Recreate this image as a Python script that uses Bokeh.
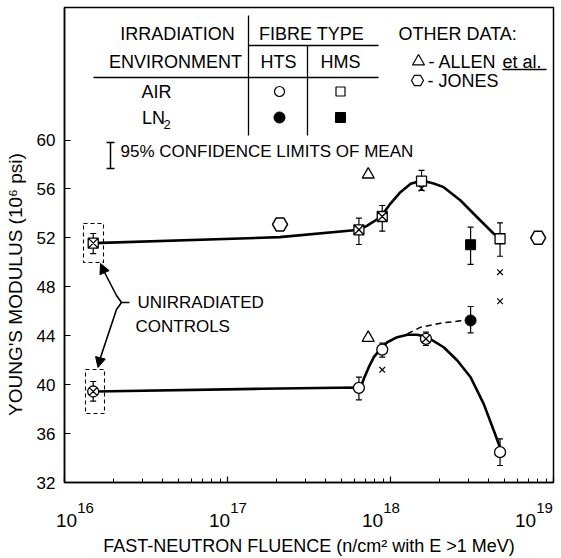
from bokeh.plotting import figure
from bokeh.models import (Range1d, FixedTicker, CustomJSTickFormatter, ColumnDataSource,
                          Whisker, TeeHead, Label, Arrow, NormalHead, LogTicker, LogAxis)
from bokeh.embed import file_html
from bokeh.resources import INLINE

# ---------------- data ----------------
# HMS fibre, air irradiation (open squares)
hms_air_x = [1.5e16, 6.4e17, 8.9e17, 1.55e18, 4.7e18]
hms_air_y = [51.57, 52.66, 53.75, 56.64, 51.93]
hms_air_lo = [50.72, 51.46, 52.55, 55.88, 50.50]
hms_air_hi = [52.36, 53.61, 54.65, 57.52, 53.23]
hms_air_mark = ["square_x", "square_x", "square_x", "square", "square"]

# HMS fibre, LN2 irradiation (filled square)
hms_ln2_x = [3.1e18]
hms_ln2_y = [51.44]
hms_ln2_lo = [49.83]
hms_ln2_hi = [52.88]

# HTS fibre, air irradiation (open circles)
hts_air_x = [1.5e16, 6.4e17, 8.9e17, 1.65e18, 4.7e18]
hts_air_y = [39.44, 39.74, 42.87, 43.75, 34.48]
hts_air_lo = [38.65, 38.76, 42.25, 43.20, 33.39]
hts_air_hi = [40.26, 40.61, 43.39, 44.29, 35.57]
hts_air_mark = ["circle_x", "circle", "circle", "circle_x", "circle"]

# HTS fibre, LN2 irradiation (filled circle)
hts_ln2_x = [3.1e18]
hts_ln2_y = [45.25]
hts_ln2_lo = [44.24]
hts_ln2_hi = [46.39]

# other data
allen_x = [7.3e17, 7.3e17]
allen_y = [57.18, 43.83]
jones_x = [2.1e17, 8.05e18]
jones_y = [53.10, 52.01]
cross_x = [4.7e18, 4.7e18, 8.9e17, 1.55e18]
cross_y = [49.20, 46.82, 41.21, 56.04]

# hand-drawn fitted curves
hms_curve_x = [1.51e16, 2.09e17, 6.45e17, 7.2e17, 8.68e17, 1.0e18, 1.15e18, 1.33e18,
               1.56e18, 1.84e18, 2.12e18, 2.69e18, 3.40e18, 4.30e18, 4.73e18]
hms_curve_y = [51.57, 52.06, 52.66, 53.01, 53.69, 54.81, 55.74, 56.42,
               56.69, 56.45, 56.15, 55.06, 53.69, 52.34, 51.93]
hts_curve_x = [1.55e16, 1.59e17, 6.25e17, 6.55e17, 6.86e17, 7.36e17, 7.9e17, 8.69e17,
               9.55e17, 1.10e18, 1.27e18, 1.46e18, 1.68e18, 2.12e18, 2.57e18,
               3.10e18, 3.73e18, 4.30e18, 4.73e18]
hts_curve_y = [39.44, 39.66, 39.77, 39.74, 40.48, 41.43, 42.25, 42.93,
               43.47, 43.88, 44.08, 44.08, 43.88, 43.06, 41.98,
               40.61, 38.43, 36.25, 34.76]
ln2_curve_x = [1.27e18, 1.53e18, 2.03e18, 2.69e18, 3.13e18]
ln2_curve_y = [44.16, 44.70, 45.03, 45.22, 45.25]

y_ticks = [32, 36, 40, 44, 48, 52, 56, 60]
x_tick_base = "10"

FONT = "Liberation Sans"


# page-pixel layout helpers for annotations (positions only)
def X(px):
    return 10 ** (16 + (px - 64) / 163.0)


def Y(py):
    return 32 + (482 - py) / 12.23


p = figure(x_axis_type="log", frame_width=489, frame_height=475,
           x_range=Range1d(1e16, 1e19), y_range=Range1d(32, 32 + 475 / 12.23),
           min_border_left=64, min_border_right=2, min_border_top=7, min_border_bottom=74,
           output_backend="svg", toolbar_location=None,
           background_fill_color="white", border_fill_color="white")
p.grid.grid_line_color = None
p.outline_line_color = "black"
p.outline_line_width = 1.5

# axes: the default x axis carries the tick marks only
p.xaxis.ticker = LogTicker(num_minor_ticks=10)
p.xaxis.formatter = CustomJSTickFormatter(code="return '';")
p.xaxis.major_label_standoff = 0
p.yaxis.ticker = FixedTicker(ticks=y_ticks)
for ax in (p.xaxis, p.yaxis):
    ax.axis_line_width = 1.5
    ax.major_tick_in = 6
    ax.major_tick_out = 0
    ax.major_tick_line_width = 1.2
    ax.minor_tick_in = 4
    ax.minor_tick_out = 0
    ax.major_label_text_font = FONT
    ax.major_label_text_color = "black"
p.yaxis.minor_tick_line_color = None
p.yaxis.major_label_text_font_size = "17px"
p.yaxis.major_label_standoff = 9
# trailing no-break spaces move the visible title down, as in the original
p.yaxis.axis_label = "YOUNG'S MODULUS (10\u2076 psi)" + "\u00a0" * 15
p.yaxis.axis_label_text_font = FONT
p.yaxis.axis_label_text_font_style = "normal"
p.yaxis.axis_label_text_color = "black"
p.yaxis.axis_label_text_font_size = "19px"
p.yaxis.axis_label_standoff = 8

# decade labels "10" with raised exponents, built from two label-only axes
exp_axis = LogAxis(ticker=FixedTicker(ticks=[X(85), X(238), X(391), X(544)]),
                   formatter=CustomJSTickFormatter(
                       code="return String(Math.round(Math.log10(tick)));"),
                   axis_line_color=None, major_tick_line_color=None,
                   minor_tick_line_color=None, major_label_standoff=14,
                   major_label_text_font=FONT, major_label_text_font_size="15px",
                   major_label_text_color="black")
ten_axis = LogAxis(ticker=FixedTicker(ticks=[X(66), X(219), X(372), X(525)]),
                   formatter=CustomJSTickFormatter(code="return '%s';" % x_tick_base),
                   axis_line_color=None, major_tick_line_color=None,
                   minor_tick_line_color=None, major_label_standoff=-8,
                   major_label_text_font=FONT, major_label_text_font_size="19px",
                   major_label_text_color="black",
                   axis_label="FAST-NEUTRON FLUENCE (n/cm\u00b2 with E >1 MeV)",
                   axis_label_text_font=FONT, axis_label_text_font_style="normal",
                   axis_label_text_font_size="18px", axis_label_text_color="black",
                   axis_label_standoff=6)
p.add_layout(exp_axis, "below")
p.add_layout(ten_axis, "below")

# curves
p.line(hms_curve_x, hms_curve_y, line_width=2.6, line_color="black")
p.line(hts_curve_x, hts_curve_y, line_width=2.6, line_color="black")
p.line(ln2_curve_x, ln2_curve_y, line_width=1.5, line_color="black", line_dash="6 4")


# error bars
def errbars(xs, lo, hi):
    src = ColumnDataSource(dict(base=xs, lower=lo, upper=hi))
    w = Whisker(source=src, base="base", lower="lower", upper="upper", dimension="height",
                line_width=1.2, line_color="black",
                upper_head=TeeHead(size=6, line_width=1.2, line_color="black"),
                lower_head=TeeHead(size=6, line_width=1.2, line_color="black"))
    p.add_layout(w)


errbars(hms_air_x, hms_air_lo, hms_air_hi)
errbars(hms_ln2_x, hms_ln2_lo, hms_ln2_hi)
errbars(hts_air_x, hts_air_lo, hts_air_hi)
errbars(hts_ln2_x, hts_ln2_lo, hts_ln2_hi)

# markers
p.scatter(x=hms_air_x, y=hms_air_y, marker=hms_air_mark, size=10, fill_color="white",
          line_color="black", line_width=1.3)
p.scatter(x=hms_ln2_x, y=hms_ln2_y, marker="square", size=10, fill_color="black",
          line_color="black")
p.scatter(x=hts_air_x, y=hts_air_y, marker=hts_air_mark, size=11, fill_color="white",
          line_color="black", line_width=1.3)
p.scatter(x=hts_ln2_x, y=hts_ln2_y, marker="circle", size=11, fill_color="black",
          line_color="black")
p.scatter(x=allen_x, y=allen_y, marker="triangle", size=12, fill_color="white",
          line_color="black", line_width=1.3)
p.scatter(x=jones_x, y=jones_y, marker="hex", size=15, fill_color="white",
          line_color="black", line_width=1.5)
p.scatter(x=cross_x, y=cross_y, marker="x", size=8, line_color="black", line_width=1.2)

# dashed boxes round the unirradiated controls
p.quad(left=[X(83), X(85)], right=[X(103), X(104)], top=[Y(223), Y(369)],
       bottom=[Y(262), Y(413)], fill_color=None, line_color="black",
       line_width=1.1, line_dash="4 3")

# bracket with arrows
p.line([X(129), X(121), X(116), X(102)], [Y(302), Y(302), Y(295), Y(268)],
       line_color="black", line_width=1.6)
p.line([X(121), X(116), X(99)], [Y(302), Y(309), Y(360)],
       line_color="black", line_width=1.6)
p.add_layout(Arrow(end=NormalHead(size=10, fill_color="black", line_color="black"),
                   x_start=X(104), y_start=Y(272), x_end=X(100), y_end=Y(263),
                   line_width=1.6, line_color="black"))
p.add_layout(Arrow(end=NormalHead(size=10, fill_color="black", line_color="black"),
                   x_start=X(100), y_start=Y(357), x_end=X(97.5), y_end=Y(367),
                   line_width=1.6, line_color="black"))

# legend table lines
p.segment(x0=[X(248), X(248), X(307), X(93)],
          x1=[X(248), X(378), X(307), X(378)],
          y0=[Y(15), Y(45), Y(45), Y(77)],
          y1=[Y(135), Y(45), Y(135), Y(77)],
          line_color="black", line_width=1.3)
# legend table symbols
p.scatter(x=[X(279)], y=[Y(91)], marker="circle", size=10, fill_color="white",
          line_color="black", line_width=1.2)
p.scatter(x=[X(340)], y=[Y(91)], marker="square", size=9, fill_color="white",
          line_color="black", line_width=1.2)
p.scatter(x=[X(279)], y=[Y(117)], marker="circle", size=11, fill_color="black",
          line_color="black")
p.scatter(x=[X(340)], y=[Y(117)], marker="square", size=10, fill_color="black",
          line_color="black")
p.scatter(x=[X(418)], y=[Y(61)], marker="triangle", size=12, fill_color="white",
          line_color="black", line_width=1.2)
p.scatter(x=[X(417)], y=[Y(80)], marker="hex", size=12, fill_color="white",
          line_color="black", line_width=1.2)
# underline of "et al."
p.segment(x0=[X(502)], x1=[X(546)], y0=[Y(69)], y1=[Y(69)], line_color="black",
          line_width=1.3)

# confidence-limit key bar
conf = ColumnDataSource(dict(base=[X(110)], lower=[Y(168)], upper=[Y(142)]))
p.add_layout(Whisker(source=conf, base="base", lower="lower", upper="upper",
                     dimension="height", line_width=1.5, line_color="black",
                     upper_head=TeeHead(size=8, line_width=1.5, line_color="black"),
                     lower_head=TeeHead(size=8, line_width=1.5, line_color="black")))


def label(px, py, text, align="left", size="17px"):
    p.add_layout(Label(x=X(px), y=Y(py), text=text, text_align=align,
                       text_baseline="middle", text_font=FONT, text_font_size=size,
                       text_color="black"))


label(177, 33, "IRRADIATION", "center", "18px")
label(175, 61, "ENVIRONMENT", "center", "18px")
label(311, 33, "FIBRE TYPE", "center", "18px")
label(278, 61, "HTS", "center", "18px")
label(340, 61, "HMS", "center", "18px")
label(156, 91, "AIR", "center", "18px")
label(153, 117, "LN", "center", "18px")
label(163, 124, "2", "left", "13px")
label(398, 33, "OTHER DATA:", "left", "18px")
label(428, 61, "- ALLEN", "left", "18px")
label(502, 61, "et al.", "left", "18px")
label(427, 80, "- JONES", "left", "18px")
label(120, 151, "95% CONFIDENCE LIMITS OF MEAN", "left", "17px")
label(137, 302, "UNIRRADIATED", "left", "17px")
label(135, 326, "CONTROLS", "left", "17px")

open("out.html", "w").write(file_html(p, INLINE))
